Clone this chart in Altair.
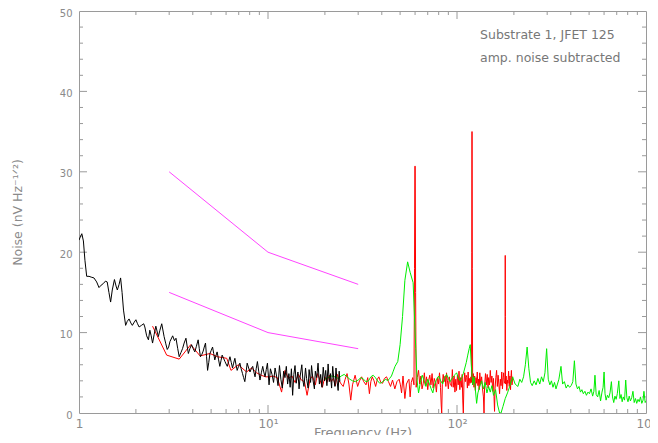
import altair as alt
import pandas as pd

# ---------------- data ----------------
black_f = [1.0, 1.02, 1.035, 1.055, 1.075, 1.098, 1.13, 1.16, 1.2, 1.24, 1.276, 1.31, 1.345, 1.38, 1.41,
           1.44, 1.47, 1.5, 1.54, 1.57, 1.595, 1.63, 1.66, 1.69, 1.72, 1.765, 1.8, 1.84, 1.88, 1.915,
           1.96, 2.0, 2.04, 2.08, 2.14, 2.2, 2.23, 2.28, 2.33, 2.37, 2.41, 2.45, 2.5, 2.55, 2.63,
           2.68, 2.74, 2.82, 2.88, 2.93, 2.98, 3.03, 3.13, 3.2, 3.26, 3.33, 3.39, 3.46, 3.53, 3.6,
           3.68, 3.74, 3.79, 3.86, 3.94, 4.02, 4.10, 4.18, 4.27, 4.33, 4.39, 4.47, 4.54, 4.6, 4.67,
           4.73, 4.79, 4.86, 4.93, 5.01, 5.09, 5.16, 5.23, 5.3, 5.38, 5.47, 5.56, 5.64, 5.72, 5.82,
           5.92, 6.0, 6.09, 6.19, 6.29, 6.39, 6.49, 6.58, 6.68, 6.77, 6.87, 6.98, 7.10, 7.21, 7.33,
           7.43, 7.54, 7.65, 7.76, 7.9, 8.03, 8.16, 8.30, 8.42, 8.54, 8.66, 8.79, 8.93, 9.07, 9.22,
           9.38, 9.5, 9.65, 9.79, 9.93, 10.13, 10.3, 10.5, 10.7, 10.9, 11.1, 11.3, 11.5, 11.7, 11.9,
           12.1, 12.3, 12.5, 12.7, 12.9, 13.1, 13.3, 13.5, 13.7, 13.9, 14.1, 14.4, 14.6, 14.8, 15.1,
           15.3, 15.5, 15.8, 16.0, 16.3, 16.5, 16.8, 17.0, 17.3, 17.6, 17.8, 18.1, 18.4, 18.7, 19.0,
           19.3, 19.6, 19.9, 20.2, 20.5, 20.8, 21.1, 21.4, 21.7, 22.0, 22.3, 22.6, 22.9, 23.2, 23.5,
           23.8, 24.0]
black_v = [21.5, 22.0, 22.3, 21.4, 19.0, 17.0, 17.0, 16.9, 16.8, 16.3, 15.6, 15.9, 16.1, 16.4, 16.3,
           15.0, 13.8, 15.3, 16.6, 15.8, 15.3, 16.0, 16.8, 15.0, 12.8, 10.9, 11.4, 11.7, 11.2, 10.9,
           11.3, 11.6, 11.1, 10.7, 10.9, 11.1, 10.7, 9.6, 9.1, 10.3, 9.6, 8.7, 9.8, 10.8, 9.5,
           10.3, 11.1, 9.5, 8.6, 7.9, 8.2, 8.9, 9.6, 9.0, 9.3, 8.0, 7.0, 7.5, 8.0, 8.7,
           9.3, 8.2, 7.4, 8.0, 8.5, 8.0, 7.6, 8.3, 9.1, 8.0, 7.0, 7.3, 7.7, 8.2, 8.7,
           7.0, 5.3, 6.3, 7.4, 7.8, 8.2, 7.4, 6.6, 7.1, 7.6, 6.7, 5.8, 6.5, 7.2, 6.8,
           6.4, 6.1, 5.8, 6.4, 7.0, 6.3, 5.6, 6.2, 6.8, 6.0, 5.3, 5.8, 6.2, 5.5, 4.9,
           4.4, 3.9, 5.0, 6.2, 5.6, 5.1, 5.5, 5.8, 5.1, 4.5, 5.5, 6.4, 5.2, 4.1, 5.0,
           5.8, 5.1, 4.5, 5.4, 6.2, 3.5, 5.5, 4.8, 3.8, 5.6, 4.6, 3.4, 5.9, 4.2, 3.1,
           5.2, 4.4, 5.8, 3.6, 4.9, 3.2, 5.5, 2.2, 4.8, 5.9, 3.7, 5.1, 3.0, 4.6, 6.0,
           4.0, 3.3, 5.6, 4.3, 3.1, 5.4, 3.8, 5.9, 4.1, 3.0, 5.2, 4.4, 6.2, 3.6, 4.8,
           3.2, 5.7, 4.0, 5.3, 3.4, 6.1, 3.9, 4.9, 3.1, 5.8, 4.2, 3.3, 5.6, 4.0, 2.8,
           5.2, 3.9]

red_f = [2.45, 2.91, 3.39, 3.9, 4.37, 4.93, 5.4, 6.05, 6.37, 6.96, 7.7, 8.19, 8.7, 9.2, 9.7,
         10.2, 10.6, 11.2, 11.8, 12.3, 12.8, 13.4, 13.9, 14.5, 15.0, 15.6, 16.1, 16.7, 17.2, 17.8,
         18.3, 18.9, 19.4, 20.0, 20.5, 21.1, 21.6, 22.2, 22.7, 23.3, 23.8, 24.4, 25.0, 25.6, 26.2,
         26.8, 27.4, 28.0, 28.9, 29.8, 30.5, 31.3, 32.1, 33.0, 33.7, 34.4, 35.0, 35.6, 36.4, 37.1,
         37.9, 38.6, 39.5, 40.4, 41.3, 42.4, 43.4, 44.5, 45.6, 46.9, 48.1, 49.4, 50.2, 50.9, 51.8,
         53.0, 54.0, 55.0, 55.7, 56.5, 57.3, 58.3, 59.2, 59.6, 59.85, 60.1, 60.4, 60.8, 61.6, 62.6,
         63.5, 64.4, 65.3, 66.3, 67.2, 68.0, 69.0, 70.0, 71.0, 71.8, 72.8, 73.8, 74.8, 75.8, 76.8,
         77.8, 78.8, 79.8, 80.8, 81.8, 82.5, 83.0, 83.6, 84.5, 85.5, 86.5, 87.3, 88.0, 89.0, 90.0,
         91.0, 92.0, 93.6, 94.5, 95.5, 96.5, 97.5, 98.5, 99.4, 100.5, 101.5, 102.5, 103.5, 104.5, 105.5,
         106.5, 107.3, 108.0, 108.8, 109.8, 110.8, 111.8, 112.6, 113.5, 114.5, 115.5, 116.5, 117.3, 118.5, 119.3,
         119.7, 119.95, 120.2, 120.5, 121.0, 122.0, 123.0, 124.0, 125.0, 126.0, 127.0, 128.0, 129.0, 130.0, 131.0,
         132.0, 133.5, 135.0, 136.5, 138.0, 139.0, 140.0, 141.5, 143.0, 144.5, 146.0, 147.0, 148.5, 150.0, 151.5,
         153.0, 154.5, 156.0, 157.0, 158.0, 159.0, 160.5, 162.0, 163.5, 165.0, 166.5, 168.0, 169.5, 171.0, 172.5,
         174.0, 175.5, 176.5, 178.0, 179.5, 179.8, 180.0, 180.3, 180.6, 182.0, 183.5, 185.0, 186.0, 187.5, 189.0,
         190.5, 192.0, 193.0, 194.0, 195.5, 197.0]
red_v = [10.8, 7.2, 6.7, 8.5, 7.1, 7.4, 7.0, 6.8, 5.3, 6.0, 5.1, 5.6, 5.0, 4.7, 4.5,
         4.5, 4.6, 4.4, 2.6, 5.3, 4.3, 4.6, 3.8, 4.8, 4.1, 3.9, 2.2, 4.2, 4.6, 3.5,
         4.9, 4.0, 3.2, 4.5, 3.8, 4.7, 3.9, 4.3, 3.4, 4.8, 4.0, 3.6, 3.3, 4.2, 4.9,
         3.6, 1.6, 3.5, 4.7, 3.3, 4.0, 4.5, 3.9, 3.5, 4.4, 2.4, 3.9, 4.5, 4.0, 3.3,
         4.2, 4.5, 3.8, 3.7, 4.3, 4.5, 3.9, 3.3, 4.1, 3.0, 3.9, 4.2, 3.5, 2.5, 4.6,
         1.8, 3.6, 4.0, 4.2, 2.0, 3.8, 4.4, 3.5, 18.0, 30.7, 30.7, 15.0, 3.2, 4.4, 5.3,
         3.6, 4.6, 3.0, 3.7, 5.0, 3.4, 4.5, 2.9, 4.2, 4.7, 3.5, 4.9, 3.1, 4.3, 3.8,
         2.6, 4.4, 3.6, 5.0, 3.2, 1.0, 0.0, 3.5, 4.8, 3.9, 4.6, 3.3, 5.0, 4.0, 3.0,
         4.5, 3.7, 3.3, 5.4, 3.2, 4.6, 2.6, 4.2, 2.8, 4.7, 3.5, 5.2, 2.9, 4.4, 3.2,
         4.8, 1.5, 0.0, 3.6, 5.0, 3.9, 4.7, 4.4, 3.1, 5.1, 3.4, 4.3, 3.7, 4.5, 3.8,
         20.0, 35.0, 35.0, 18.0, 3.5, 4.9, 3.2, 4.6, 2.8, 4.4, 3.7, 5.1, 3.4, 4.2, 2.9,
         5.0, 3.6, 4.5, 3.0, 2.0, 0.0, 3.4, 4.9, 3.5, 4.8, 3.1, 4.4, 3.5, 5.3, 3.8,
         4.6, 2.7, 4.3, 2.0, 0.2, 3.1, 4.4, 5.3, 3.3, 4.7, 3.6, 2.4, 4.2, 3.4, 5.1,
         3.0, 4.4, 5.0, 3.7, 4.0, 12.0, 19.6, 12.0, 3.6, 4.6, 2.8, 4.1, 3.7, 5.2, 3.3,
         4.6, 2.9, 4.4, 5.3, 3.5, 4.5]

green_f = [20.0, 20.8, 21.7, 22.6, 23.5, 24.4, 25.3, 26.2, 27.1, 28.0, 29.0, 30.0, 31.0, 32.0, 33.0,
           34.0, 35.0, 36.0, 37.0, 38.0, 39.0, 40.0, 41.0, 42.0, 43.0, 44.0, 45.0, 46.0, 47.0, 48.6,
           50.0, 51.5, 53.0, 54.8, 56.5, 58.6, 60.5, 61.5, 62.6, 64.0, 65.5, 67.0, 68.5, 70.0, 71.5,
           73.0, 74.5, 76.0, 78.0, 80.0, 82.0, 84.0, 86.0, 88.0, 90.0, 92.0, 94.0, 96.0, 98.0, 99.5,
           102.0, 104.0, 106.0, 108.0, 110.0, 112.0, 114.0, 116.0, 117.5, 119.0, 121.0, 123.0, 125.0, 127.0, 129.0,
           132.0, 135.0, 138.0, 141.0, 144.0, 147.0, 150.0, 153.0, 156.0, 160.0, 164.0, 168.0, 171.0, 175.0, 180.0,
           185.0, 190.0, 197.0, 203.0, 210.0, 215.0, 220.0, 225.0, 230.0, 235.0, 240.0, 245.0, 250.0, 256.0, 262.0,
           268.0, 274.0, 280.0, 286.0, 292.0, 298.0, 304.0, 310.0, 316.0, 322.0, 328.0, 334.0, 340.0, 346.0, 355.0,
           362.0, 370.0, 378.0, 386.0, 394.0, 402.0, 410.0, 418.0, 426.0, 434.0, 442.0, 450.0, 458.0, 466.0, 475.0,
           484.0, 493.0, 502.0, 512.0, 522.0, 530.0, 537.0, 545.0, 555.0, 565.0, 575.0, 585.0, 593.0, 600.0, 607.0,
           615.0, 625.0, 635.0, 645.0, 656.0, 665.0, 675.0, 685.0, 695.0, 705.0, 718.0, 728.0, 738.0, 748.0, 758.0,
           770.0, 781.0, 792.0, 803.0, 815.0, 827.0, 840.0, 853.0, 866.0, 880.0, 893.0, 907.0, 921.0, 935.0, 950.0,
           965.0, 975.0, 990.0, 1000.0]
green_v = [4.2, 4.4, 4.6, 4.5, 4.3, 4.6, 4.8, 4.5, 4.2, 4.0, 3.9, 4.1, 4.4, 4.2, 3.9,
           4.0, 4.5, 4.7, 4.4, 4.0, 3.7, 3.8, 4.0, 4.2, 4.0, 4.3, 4.6, 5.2, 5.8, 6.4,
           8.5, 12.0, 16.5, 18.8, 17.5, 16.2, 8.0, 4.0, 2.5, 3.8, 4.7, 4.0, 3.3, 4.2, 3.6,
           3.0, 2.5, 3.5, 4.2, 4.6, 4.0, 3.6, 4.4, 4.8, 4.3, 3.9, 4.3, 4.6, 4.8, 5.0,
           4.3, 4.0, 4.4, 4.9, 5.6, 6.3, 7.2, 8.0, 8.5, 6.0, 3.5, 4.5, 3.0, 1.2, 2.5,
           3.3, 4.0, 3.0, 3.8, 2.5, 3.3, 2.6, 3.4, 2.2, 2.9, 1.0, 0.0, 0.0, 0.8, 1.8,
           2.5, 3.3, 4.5, 3.6, 3.3, 4.2, 3.8, 4.5, 6.0, 8.2, 5.5, 3.8, 3.4, 4.0, 3.5,
           4.3, 3.6, 4.5, 3.9, 5.0, 8.0, 4.2, 3.5, 4.0, 3.2, 3.8, 3.0, 3.6, 4.2, 5.8,
           3.6, 3.9, 3.1, 3.5, 3.2, 3.4, 3.9, 6.5, 3.6, 3.0, 3.3, 2.6, 2.9, 2.4, 2.7,
           2.2, 2.6, 2.4, 3.0, 2.1, 2.7, 4.7, 2.3, 2.0, 2.8, 1.5, 2.6, 3.2, 5.1, 2.4,
           1.6, 2.2, 1.9, 2.5, 3.9, 2.0, 1.3, 2.1, 1.7, 2.4, 4.0, 1.8, 2.3, 1.4, 2.0,
           1.6, 4.1, 1.9, 1.4, 2.1, 1.5, 1.9, 2.7, 1.3, 1.8, 1.2, 1.7, 1.4, 2.0, 1.2,
           1.6, 2.7, 1.3, 1.5]

limit_hi_f = [3, 10, 30]
limit_hi_v = [30, 20, 16]
limit_lo_f = [3, 10, 30]
limit_lo_v = [15, 10, 8]

x_minor_ticks = [2, 3, 4, 5, 6, 7, 8, 9, 20, 30, 40, 50, 60, 70, 80, 90,
                 200, 300, 400, 500, 600, 700, 800, 900]
x_major_ticks = [10, 100]
y_minor_ticks = [2, 4, 6, 8, 12, 14, 16, 18, 22, 24, 26, 28, 32, 34, 36, 38, 42, 44, 46, 48]
y_major_ticks = [10, 20, 30, 40]

note_lines = ["Substrate 1, JFET 125", "amp. noise subtracted"]
note_f = [132.4, 132.4]
note_v = [46.5, 43.6]

# ---------------- chart ----------------
W, H = 567, 402
FONT = "DejaVu Sans"
GRAY = "#8a8a8a"
LINE_GRAY = "#9a9a9a"

x_scale = alt.Scale(type="log", domain=[1, 1000], nice=False)
y_scale = alt.Scale(domain=[0, 50], nice=False, zero=False)

x_axis = alt.Axis(
    title="Frequency (Hz)", values=[1, 10, 100, 1000],
    labelExpr="datum.value == 1 ? '1' : datum.value == 10 ? '10¹' : datum.value == 100 ? '10²' : '10³'",
    ticks=False, domain=False, grid=False, labelFont=FONT, labelFontSize=12, labelColor=GRAY,
    labelPadding=5, titleFont=FONT, titleFontSize=13, titleFontWeight="normal", titleColor=GRAY,
    titlePadding=-3, labelFlush=False,
)
y_axis = alt.Axis(
    title="Noise (nV Hz⁻¹ᐟ²)", values=[0, 10, 20, 30, 40, 50],
    ticks=False, domain=False, grid=False, labelFont=FONT, labelFontSize=10, labelColor=GRAY,
    labelPadding=7, labelOffset=2, titleFont=FONT, titleFontSize=12.5, titleFontWeight="normal",
    titleColor=GRAY, titlePadding=35,
)

X = alt.X("f:Q", scale=x_scale, axis=x_axis)
Y = alt.Y("v:Q", scale=y_scale, axis=y_axis)


def series(f, v, color):
    df = pd.DataFrame({"f": f, "v": v})
    return alt.Chart(df).mark_line(color=color, strokeWidth=1, clip=True).encode(x=X, y=Y)


def xticks(vals, length):
    df = pd.DataFrame({"f": vals})
    bottom = alt.Chart(df).mark_rule(color=LINE_GRAY, strokeWidth=1).encode(
        x=X, y=alt.value(H), y2=alt.value(H - length))
    top = alt.Chart(df).mark_rule(color=LINE_GRAY, strokeWidth=1).encode(
        x=X, y=alt.value(0), y2=alt.value(length))
    return [bottom, top]


def yticks(vals, length):
    df = pd.DataFrame({"v": vals})
    left = alt.Chart(df).mark_rule(color=LINE_GRAY, strokeWidth=1).encode(
        y=Y, x=alt.value(0), x2=alt.value(length))
    right = alt.Chart(df).mark_rule(color=LINE_GRAY, strokeWidth=1).encode(
        y=Y, x=alt.value(W - length), x2=alt.value(W))
    return [left, right]


notes = alt.Chart(pd.DataFrame({"f": note_f, "v": note_v, "t": note_lines})).mark_text(
    align="left", baseline="alphabetic", font=FONT, fontSize=12.5, color="#777777"
).encode(x=X, y=Y, text="t:N")

layers = (
    xticks(x_minor_ticks, 4) + xticks(x_major_ticks, 8)
    + yticks(y_minor_ticks, 4) + yticks(y_major_ticks, 8)
    + [
        series(red_f, red_v, "#ff0000"),
        series(green_f, green_v, "#00ee00"),
        series(black_f, black_v, "#000000"),
        series(limit_hi_f, limit_hi_v, "#ff44ff"),
        series(limit_lo_f, limit_lo_v, "#ff44ff"),
        notes,
    ]
)

chart = alt.layer(*layers).properties(
    width=W, height=H,
    autosize=alt.AutoSizeParams(type="none"),
    padding={"left": 71, "top": 3, "right": 4, "bottom": 22},
    background="white",
).configure_view(stroke=LINE_GRAY, strokeWidth=1)

chart.save("out.html", embed_options={"renderer": "svg", "actions": False})
